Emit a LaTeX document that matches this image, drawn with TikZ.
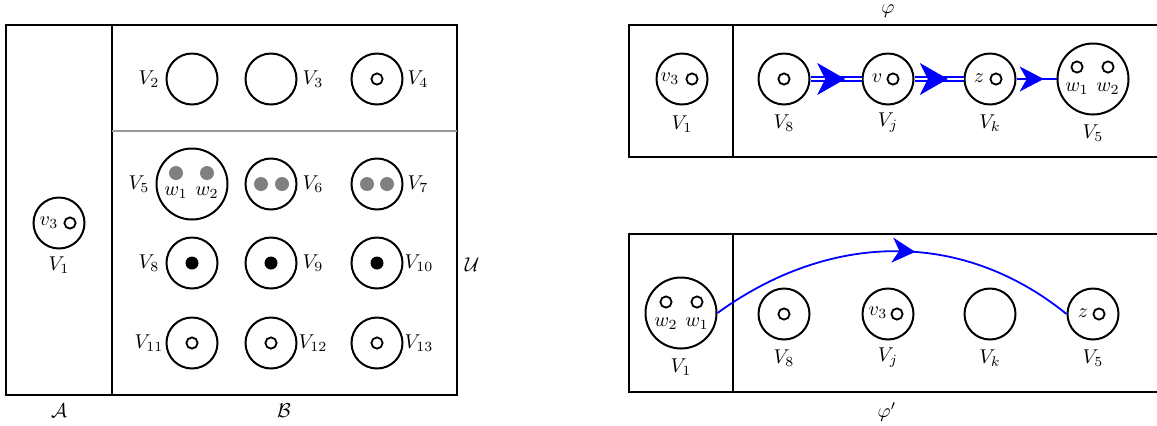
\documentclass[tikz,border=0pt]{standalone}
\usetikzlibrary{arrows.meta,decorations.markings}
\begin{document}
\begin{tikzpicture}[x=0.5pt,y=-0.5pt,
  box/.style={draw,line width=1pt},
  sep/.style={draw=black!40,line width=0.6pt},
  bigc/.style={circle,draw,line width=1pt,minimum size=25.5pt,inner sep=0pt},
  hugec/.style={circle,draw,line width=1pt,minimum size=35.5pt,inner sep=0pt},
  smc/.style={circle,draw,line width=0.9pt,minimum size=5.6pt,inner sep=0pt},
  bdot/.style={circle,fill=black,minimum size=6.5pt,inner sep=0pt},
  gdot/.style={circle,fill=black!50,minimum size=7pt,inner sep=0pt},
  lab/.style={inner sep=0pt},
  bluedbl/.style={draw=blue,line width=0.7pt,double=white,double distance=1.3pt},
  blueln/.style={draw=blue,line width=0.9pt}
]
\useasboundingbox (0,0) rectangle (1157,425);
\clip (0,0) rectangle (1157,425);

% ---------------- left panel ----------------
\draw[box] (6,25) rectangle (457,395);
\draw[box] (112,25) -- (112,395);
\draw[sep] (112,131) -- (457,131);

\node[bigc] (A1) at (59,223) {};
\node[smc] (A1s) at (70,223) {};
\node[lab] (A1v) at (49,223) {$v_3$};
\node[lab] (A1l) at (59,265) {$V_1$};

% row 1
\node[bigc] (A2) at (192,79) {};
\node[bigc] (A3) at (271,79) {};
\node[bigc] (A4) at (377,79) {};
\node[smc] (A4s) at (377,79) {};
\node[lab] (A2l) at (149,79) {$V_2$};
\node[lab] (A3l) at (313,79) {$V_3$};
\node[lab] (A4l) at (418,79) {$V_4$};

% row 2
\node[hugec] (A5) at (192,184) {};
\node[gdot] (A5a) at (176,173) {};
\node[gdot] (A5b) at (207,173) {};
\node[lab] (A5w1) at (176,193) {$w_1$};
\node[lab] (A5w2) at (207,193) {$w_2$};
\node[lab] (A5l) at (139,184) {$V_5$};
\node[bigc] (A6) at (271,184) {};
\node[gdot] (A6a) at (261,184) {};
\node[gdot] (A6b) at (282,184) {};
\node[lab] (A6l) at (313,184) {$V_6$};
\node[bigc] (A7) at (377,184) {};
\node[gdot] (A7a) at (367,184) {};
\node[gdot] (A7b) at (387,184) {};
\node[lab] (A7l) at (418,184) {$V_7$};

% row 3
\node[bigc] (A8) at (192,263) {};
\node[bdot] (A8d) at (192,263) {};
\node[lab] (A8l) at (149,263) {$V_8$};
\node[bigc] (A9) at (271,263) {};
\node[bdot] (A9d) at (271,263) {};
\node[lab] (A9l) at (313,263) {$V_9$};
\node[bigc] (A10) at (377,263) {};
\node[bdot] (A10d) at (377,263) {};
\node[lab] (A10l) at (419,263) {$V_{10}$};

% row 4
\node[bigc] (A11) at (192,343) {};
\node[smc] (A11s) at (192,343) {};
\node[lab] (A11l) at (149,343) {$V_{11}$};
\node[bigc] (A12) at (271,343) {};
\node[smc] (A12s) at (271,343) {};
\node[lab] (A12l) at (313,343) {$V_{12}$};
\node[bigc] (A13) at (377,343) {};
\node[smc] (A13s) at (377,343) {};
\node[lab] (A13l) at (419,343) {$V_{13}$};

\node[lab] (Acal) at (59,411) {$\mathcal{A}$};
\node[lab] (Bcal) at (284,411) {$\mathcal{B}$};
\node[lab] (Ucal) at (472,265) {$\mathcal{U}$};

% ---------------- right top panel ----------------
\node[lab] (phi) at (888,11) {$\varphi$};
\draw[box] (629,25) rectangle (1180,157);
\draw[box] (733,25) -- (733,157);

\node[bigc] (B1) at (682,79) {};
\node[smc] (B1s) at (692,79) {};
\node[lab] (B1v) at (670,79) {$v_3$};
\node[lab] (B1l) at (682,124) {$V_1$};

\node[bigc] (B8) at (784,79) {};
\node[smc] (B8s) at (784,79) {};
\node[lab] (B8l) at (784,123) {$V_8$};

\node[bigc] (Bj) at (888,79) {};
\node[lab] (Bjv) at (877,78) {$v$};
\node[smc] (Bjs) at (893,79) {};
\node[lab] (Bjl) at (888,123) {$V_j$};

\node[bigc] (Bk) at (990,79) {};
\node[lab] (Bkz) at (979,78) {$z$};
\node[smc] (Bks) at (996,79) {};
\node[lab] (Bkl) at (990,123) {$V_k$};

\node[hugec] (B5) at (1093,79) {};
\node[smc] (B5a) at (1077,67) {};
\node[smc] (B5b) at (1108,67) {};
\node[lab] (B5w1) at (1077,89) {$w_1$};
\node[lab] (B5w2) at (1108,89) {$w_2$};
\node[lab] (B5l) at (1093,133) {$V_5$};

\draw[bluedbl] (B8.east) -- (Bj.west);
\path[decorate,decoration={markings,mark=at position 0.68 with {\arrow[blue]{Stealth[length=14pt,width=16pt,inset=4pt]}}}] (B8.east) -- (Bj.west);
\draw[bluedbl] (Bj.east) -- (Bk.west);
\path[decorate,decoration={markings,mark=at position 0.68 with {\arrow[blue]{Stealth[length=14pt,width=16pt,inset=4pt]}}}] (Bj.east) -- (Bk.west);
\draw[blueln,postaction={decorate},decoration={markings,mark=at position 0.68 with {\arrow{Stealth[length=12pt,width=12.5pt,inset=3.5pt]}}}] (Bk.east) -- (B5.west);

% ---------------- right bottom panel ----------------
\draw[box] (629,234) rectangle (1180,392);
\draw[box] (733,234) -- (733,392);

\node[hugec] (C1) at (681,313) {};
\node[smc] (C1a) at (666,302) {};
\node[smc] (C1b) at (697,302) {};
\node[lab] (C1w2) at (666,324) {$w_2$};
\node[lab] (C1w1) at (697,324) {$w_1$};
\node[lab] (C1l) at (681,367) {$V_1$};

\node[bigc] (C8) at (784,314) {};
\node[smc] (C8s) at (784,314) {};
\node[lab] (C8l) at (784,358) {$V_8$};

\node[bigc] (Cj) at (888,314) {};
\node[lab] (Cjv) at (878,313) {$v_3$};
\node[smc] (Cjs) at (897,314) {};
\node[lab] (Cjl) at (888,358) {$V_j$};

\node[bigc] (Ck) at (990,314) {};
\node[lab] (Ckl) at (990,358) {$V_k$};

\node[bigc] (C5) at (1093,314) {};
\node[lab] (C5z) at (1083,313) {$z$};
\node[smc] (C5s) at (1099,314) {};
\node[lab] (C5l) at (1093,358) {$V_5$};

\draw[blueln,postaction={decorate},decoration={markings,mark=at position 0.56 with {\arrow{Stealth[length=11.5pt,width=12.5pt,inset=3.5pt]}}}] (C1.east) to[out=36,in=141] (C5.west);

\node[lab] (phip) at (887,412) {$\varphi'$};
\end{tikzpicture}
\end{document}
